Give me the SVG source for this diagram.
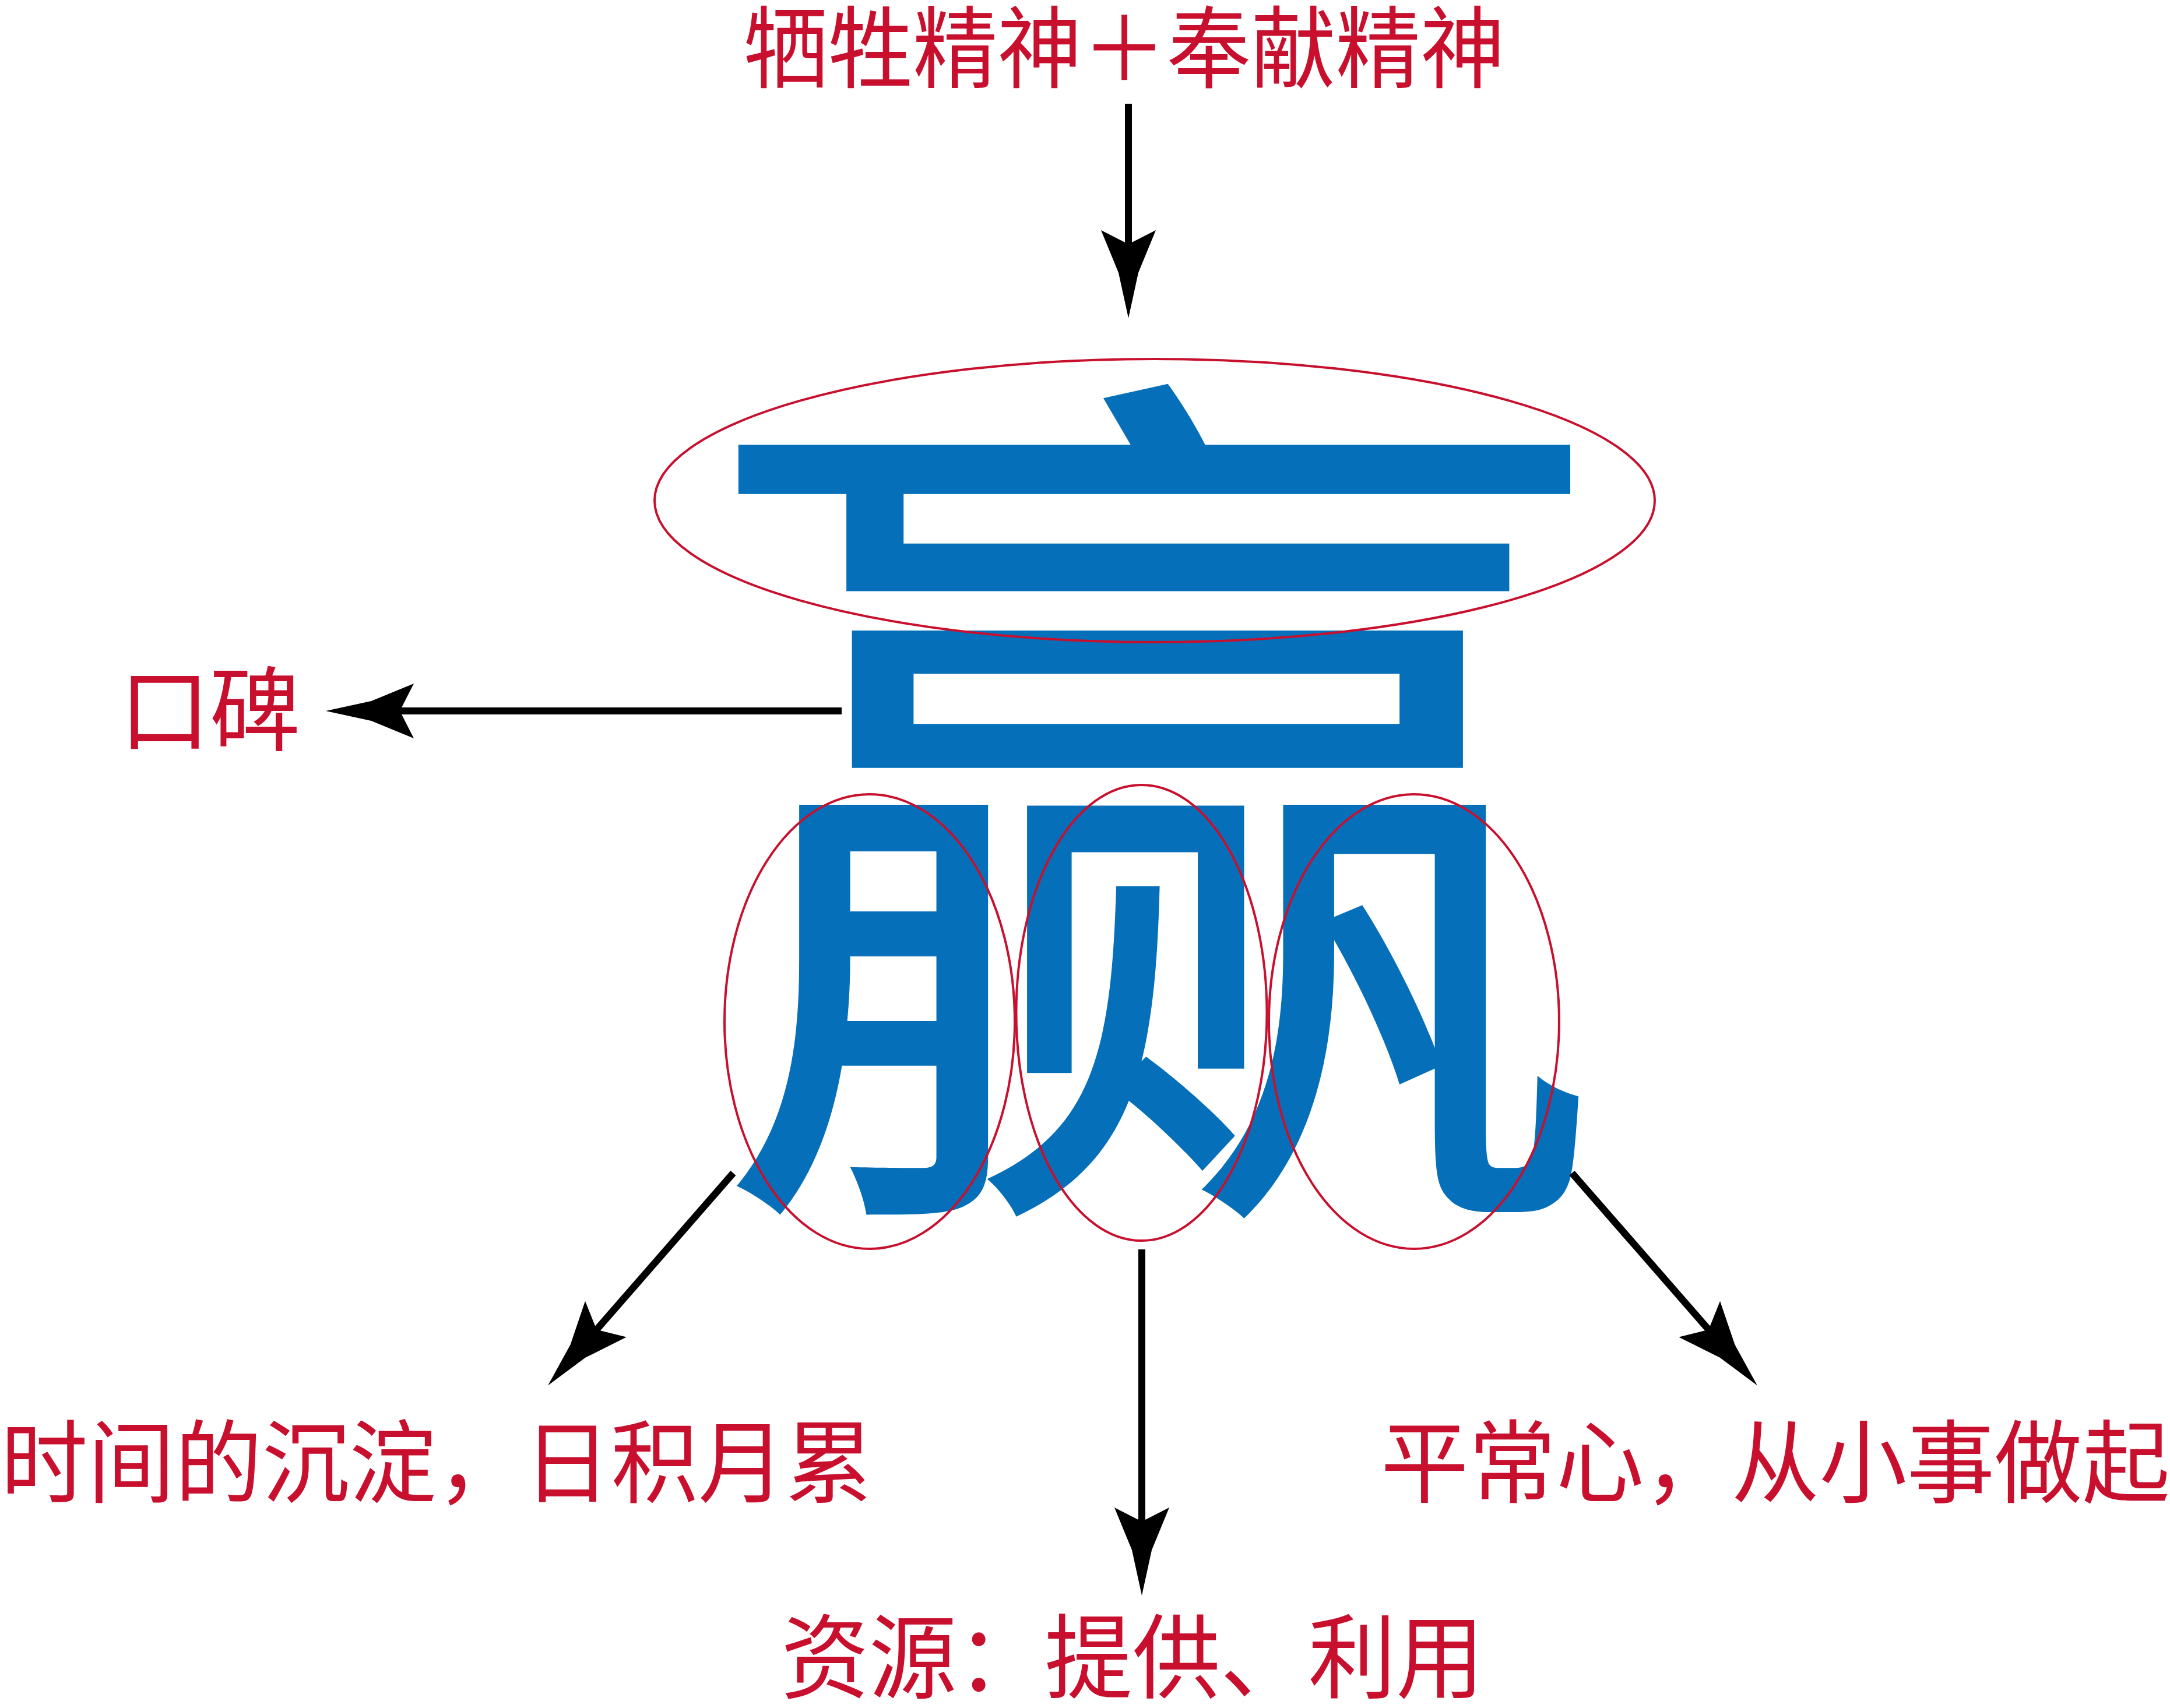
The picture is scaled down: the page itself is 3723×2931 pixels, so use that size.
<svg xmlns="http://www.w3.org/2000/svg" width="3723" height="2931" viewBox="0 0 3723 2931">
<style>
.lbl{font-family:"Noto Sans CJK SC","Noto Sans CJK TC",sans-serif;fill:#c8102e;}
.big{font-family:"Noto Sans CJK SC","Noto Sans CJK TC",sans-serif;fill:#0570b9;}
.ring{fill:none;stroke:#c8102e;stroke-width:4;}
.conn{fill:none;stroke:#000;stroke-width:12;marker-end:url(#ah);}
</style>
<defs>
<marker id="ah" markerUnits="userSpaceOnUse" viewBox="-160 -50 170 100" refX="-120" refY="0" markerWidth="170" markerHeight="100" orient="auto">
<path d="M0,0 L-78,-17 L-151,-47 L-127,0 L-151,47 L-78,17 Z" fill="#000"/>
</marker>
</defs>
<rect width="3723" height="2931" fill="#fff"/>
<g id="win">
<text class="big" x="1983.5" y="1966" font-size="1540" text-anchor="middle" textLength="1558" lengthAdjust="spacingAndGlyphs">赢</text>
</g>
<g id="ring-top"><ellipse class="ring" cx="1981" cy="859" rx="858" ry="243"/></g>
<g id="ring-left"><ellipse class="ring" cx="1492" cy="1753" rx="249" ry="390"/></g>
<g id="ring-mid"><ellipse class="ring" cx="1958.5" cy="1738" rx="215" ry="391"/></g>
<g id="ring-right"><ellipse class="ring" cx="2426" cy="1753" rx="249" ry="390"/></g>
<g id="label-top"><text class="lbl" x="1276" y="139" font-size="153" textLength="1306" lengthAdjust="spacingAndGlyphs">牺牲精神＋奉献精神</text></g>
<g id="label-left"><text class="lbl" x="205" y="1276" font-size="158" textLength="310" lengthAdjust="spacingAndGlyphs">口碑</text></g>
<g id="label-bl"><text class="lbl" x="1" y="2566" font-size="155" textLength="1496" lengthAdjust="spacingAndGlyphs">时间的沉淀，日积月累</text></g>
<g id="label-bm"><text class="lbl" x="1340" y="2902" font-size="158" textLength="1206" lengthAdjust="spacingAndGlyphs">资源：提供、利用</text></g>
<g id="label-br"><text class="lbl" x="2369" y="2566" font-size="155" textLength="1354" lengthAdjust="spacingAndGlyphs">平常心，从小事做起</text></g>
<g id="connectors">
<path class="conn" d="M1936,178 V426"/>
<path class="conn" d="M1444,1220 H679"/>
<path class="conn" d="M1258,2013 L1019,2287"/>
<path class="conn" d="M1959,2144 V2618"/>
<path class="conn" d="M2697,2013 L2936,2287"/>
</g>
</svg>
